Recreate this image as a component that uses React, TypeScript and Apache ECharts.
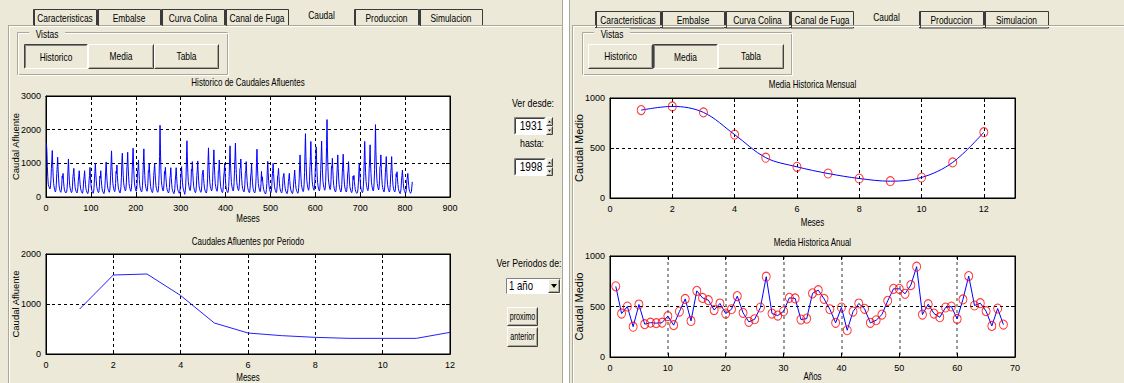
import { useEffect, useRef } from 'react';
import * as echarts from 'echarts';

// ---------- DATA ----------
const historicFlow: number[] = [
  1600, 1350, 900, 600, 380, 320, 300, 260, 240, 330, 520, 850,
  1100, 1380, 950, 620, 400, 300, 230, 180, 150, 200, 380, 700,
  900, 1180, 820, 560, 350, 260, 200, 160, 140, 190, 330, 620,
  560, 700, 480, 320, 220, 170, 140, 120, 110, 150, 260, 450,
  820, 1130, 760, 500, 330, 250, 190, 150, 130, 170, 320, 600,
  700, 850, 600, 420, 280, 210, 170, 140, 120, 160, 280, 500,
  620, 780, 560, 380, 260, 200, 160, 130, 110, 150, 270, 520,
  600, 780, 540, 370, 250, 190, 150, 120, 100, 140, 260, 500,
  640, 880, 600, 400, 270, 200, 160, 130, 110, 150, 280, 540,
  760, 1000, 700, 480, 310, 240, 190, 150, 130, 170, 320, 620,
  560, 780, 520, 350, 240, 180, 150, 120, 100, 140, 260, 500,
  780, 1040, 720, 500, 330, 250, 200, 160, 140, 180, 340, 650,
  1000, 1370, 900, 620, 400, 300, 240, 190, 160, 210, 400, 760,
  700, 950, 640, 430, 290, 220, 180, 140, 120, 170, 300, 580,
  1050, 1300, 960, 650, 420, 320, 260, 210, 180, 230, 420, 800,
  1000, 1330, 900, 620, 400, 310, 250, 200, 170, 220, 400, 780,
  1100, 1450, 980, 660, 420, 320, 260, 200, 170, 220, 420, 800,
  820, 1100, 760, 520, 340, 260, 210, 170, 150, 190, 350, 680,
  1050, 1430, 950, 640, 410, 310, 250, 200, 170, 220, 410, 780,
  760, 1000, 700, 480, 320, 240, 190, 150, 130, 170, 330, 640,
  800, 1000, 720, 500, 330, 250, 200, 160, 140, 180, 340, 660,
  1200, 2130, 1400, 800, 480, 350, 270, 210, 180, 230, 420, 760,
  680, 880, 620, 420, 280, 210, 170, 140, 120, 160, 290, 560,
  640, 870, 580, 380, 250, 190, 150, 120, 100, 140, 260, 500,
  660, 870, 600, 400, 260, 200, 160, 130, 110, 150, 270, 520,
  700, 900, 640, 440, 300, 230, 180, 140, 80, 150, 300, 600,
  1200, 1670, 1100, 720, 460, 350, 280, 220, 190, 240, 440, 820,
  780, 1050, 720, 490, 320, 240, 190, 150, 130, 170, 330, 640,
  800, 1070, 740, 500, 330, 250, 200, 160, 140, 180, 340, 650,
  640, 800, 580, 400, 270, 210, 170, 140, 120, 160, 290, 560,
  1080, 1460, 980, 660, 420, 320, 260, 210, 180, 230, 430, 800,
  1040, 1400, 940, 640, 410, 310, 250, 200, 170, 220, 410, 780,
  800, 1100, 740, 490, 320, 240, 190, 150, 130, 170, 320, 620,
  740, 1000, 680, 460, 300, 230, 180, 150, 130, 170, 310, 600,
  1100, 1520, 1000, 680, 430, 330, 260, 210, 180, 230, 430, 820,
  1150, 1600, 1050, 700, 450, 340, 270, 220, 190, 240, 440, 840,
  860, 1130, 780, 530, 350, 260, 210, 170, 150, 190, 360, 700,
  780, 1050, 720, 490, 320, 240, 190, 150, 130, 170, 330, 640,
  720, 1000, 660, 440, 290, 220, 170, 140, 120, 160, 300, 580,
  1020, 1420, 920, 620, 400, 300, 240, 190, 160, 210, 400, 760,
  480, 600, 420, 300, 220, 170, 140, 110, 90, 120, 220, 400,
  780, 1060, 720, 480, 310, 230, 180, 150, 130, 170, 320, 620,
  780, 1000, 700, 480, 320, 240, 190, 150, 130, 170, 330, 640,
  660, 850, 600, 410, 280, 210, 170, 140, 120, 160, 290, 560,
  560, 700, 500, 350, 240, 180, 150, 120, 100, 140, 250, 460,
  560, 700, 490, 340, 240, 180, 150, 120, 100, 140, 250, 470,
  620, 800, 560, 380, 260, 200, 160, 130, 110, 150, 280, 540,
  940, 1250, 860, 580, 380, 290, 230, 180, 160, 200, 380, 720,
  1300, 1880, 1200, 800, 500, 380, 300, 240, 200, 260, 480, 900,
  1200, 1650, 1100, 740, 470, 360, 290, 230, 200, 250, 460, 860,
  1100, 1490, 1000, 680, 440, 330, 270, 210, 180, 230, 440, 820,
  1200, 1660, 1100, 740, 470, 360, 290, 230, 200, 250, 460, 880,
  1500, 2300, 1450, 900, 560, 420, 330, 260, 220, 280, 500, 920,
  860, 1150, 780, 520, 340, 260, 210, 170, 150, 190, 360, 680,
  920, 1250, 840, 560, 360, 280, 220, 180, 150, 200, 380, 720,
  920, 1270, 840, 560, 360, 270, 220, 170, 150, 190, 370, 700,
  780, 1050, 720, 480, 310, 240, 190, 150, 130, 170, 320, 620,
  520, 640, 460, 320, 220, 170, 140, 110, 100, 130, 240, 440,
  760, 1000, 690, 470, 310, 230, 190, 150, 130, 170, 320, 620,
  1150, 1650, 1080, 720, 460, 350, 280, 220, 190, 240, 450, 850,
  1100, 1550, 1020, 690, 440, 340, 270, 210, 180, 230, 440, 820,
  1400, 2150, 1350, 860, 540, 400, 320, 250, 210, 270, 490, 900,
  920, 1250, 850, 570, 370, 280, 220, 180, 150, 200, 380, 720,
  900, 1200, 820, 550, 360, 270, 220, 170, 150, 190, 370, 700,
  880, 1200, 800, 540, 350, 260, 210, 170, 150, 190, 360, 690,
  600, 750, 540, 370, 250, 190, 150, 120, 100, 140, 260, 500,
  640, 800, 570, 390, 260, 200, 160, 130, 110, 150, 270, 520,
  560, 700, 500, 340, 230, 170, 140, 110, 100, 160, 300, 450,
];
const periodMonths = [1, 2, 3, 4, 5, 6, 7, 8, 9, 10, 11, 12];
const periodFlow = [900, 1580, 1600, 1170, 620, 420, 367, 333, 313, 313, 313, 433];
const meanMonths = [1, 2, 3, 4, 5, 6, 7, 8, 9, 10, 11, 12];
const monthlyMean = [879, 916, 856, 634, 403, 312, 245, 195, 168, 205, 356, 658];
const annualMean = [
  700, 430, 500, 300, 520, 325, 340, 335, 340, 405,
  315, 450, 575, 357, 655, 585, 563, 465, 530, 430,
  473, 603, 437, 348, 374, 490, 795, 430, 410, 453,
  586, 580, 371, 380, 630, 662, 576, 473, 338, 490,
  265, 450, 530, 477, 338, 364, 420, 556, 675, 675,
  626, 712, 894, 420, 523, 430, 394, 490, 500, 377,
  570, 801, 510, 533, 454, 308, 480, 321,
];
const tabLabels = ['Caracteristicas', 'Embalse', 'Curva Colina', 'Canal de Fuga', 'Caudal', 'Produccion', 'Simulacion'];
const viewLabels = ['Historico', 'Media', 'Tabla'];
const chartTitles = ['Historico de Caudales Afluentes', 'Caudales Afluentes por Periodo', 'Media Historica Mensual', 'Media Historica Anual'];
const xNames = ['Meses', 'Meses', 'Meses', 'Años'];
const yNames = ['Caudal Afluente', 'Caudal Afluente', 'Caudal Medio', 'Caudal Medio'];

// ---------- STYLE ----------
const BG = '#ECE9D8';
const WF = '"Liberation Sans",Arial,sans-serif';
const DARK = '#404040';

function T(x: number, y: number, text: string, size = 10, align = 'center', rot = 0, sx = 0.8): any {
  return {
    type: 'text', x, y, rotation: rot, scaleX: sx, z: 30,
    style: { text, fill: '#000', font: `${size}px ${WF}`, align, verticalAlign: 'middle', textAlign: align, textVerticalAlign: 'middle' },
  };
}
function R(x: number, y: number, w: number, h: number, fill: string, stroke?: string): any {
  return { type: 'rect', z: 10, shape: { x, y, width: w, height: h }, style: { fill, stroke: stroke || null, lineWidth: 1 } };
}
function L(x1: number, y1: number, x2: number, y2: number, color: string, z = 12): any {
  return { type: 'line', z, shape: { x1, y1, x2, y2 }, style: { stroke: color, lineWidth: 1 } };
}
function button(x: number, y: number, w: number, h: number, label: string, pressed: boolean, size = 10, sx = 0.8): any[] {
  const a = x + 0.5, b = y + 0.5, c = x + w - 0.5, d = y + h - 0.5;
  const els: any[] = [R(x, y, w, h, BG)];
  if (pressed) {
    els.push(L(a, b, c, b, DARK), L(a, b, a, d, DARK), L(a + 1, b + 1, c - 1, b + 1, '#808080'), L(a + 1, b + 1, a + 1, d - 1, '#808080'),
      L(a, d, c, d, '#fff'), L(c, b, c, d, '#fff'));
  } else {
    els.push(L(a, b, c, b, '#fff'), L(a, b, a, d, '#fff'), L(a, d, c, d, DARK), L(c, b, c, d, DARK),
      L(a + 1, d - 1, c - 1, d - 1, '#aca899'), L(c - 1, b + 1, c - 1, d - 1, '#aca899'));
  }
  if (label) els.push(T(x + w / 2, y + h / 2 + (pressed ? 1 : 0), label, size, 'center', 0, sx));
  return els;
}
function editBox(x: number, y: number, w: number, h: number, text: string): any[] {
  const a = x + 0.5, b = y + 0.5, c = x + w - 0.5, d = y + h - 0.5;
  return [R(x, y, w, h, '#fff'), L(a, b, c, b, '#808080'), L(a, b, a, d, '#808080'), L(a + 1, b + 1, c - 1, b + 1, DARK),
    L(a + 1, b + 1, a + 1, d - 1, DARK), L(a, d, c, d, '#fff'), T(x + w / 2 + 1, y + h / 2, text, 12, 'center', 0, 0.85)];
}
function spinner(x: number, y: number, h: number): any[] {
  const hh = h / 2;
  const els: any[] = [...button(x, y, 7, hh, '', false), ...button(x, y + hh, 7, hh, '', false)];
  els.push({ type: 'polygon', z: 31, shape: { points: [[x + 2, y + hh / 2 + 1], [x + 5, y + hh / 2 + 1], [x + 3.5, y + hh / 2 - 1]] }, style: { fill: '#000' } });
  els.push({ type: 'polygon', z: 31, shape: { points: [[x + 2, y + hh + hh / 2 - 1], [x + 5, y + hh + hh / 2 - 1], [x + 3.5, y + hh + hh / 2 + 1]] }, style: { fill: '#000' } });
  return els;
}

function panelChrome(ox: number, tabX: number[], tabTop: number, pressedIdx: number, vist: { gx: number; gw: number; bx: number[] }): any[] {
  const els: any[] = [];
  els.push(L(ox + 8.5, 26, ox + 8.5, 383, '#aca899'), L(ox + 9.5, 26, ox + 9.5, 383, '#fff'));
  els.push(L(ox + 8, 25.5, ox + 562, 25.5, '#aca899'), L(ox + 9, 26.5, ox + 562, 26.5, '#fff'));
  for (let i = 0; i < tabLabels.length; i++) {
    const x0 = tabX[i], x1 = tabX[i + 1];
    if (tabLabels[i] === 'Caudal') {
      els.push(R(x0, tabTop - 3, x1 - x0, 20, BG));
      els.push(T((x0 + x1) / 2, tabTop + 6, tabLabels[i], 10.5));
    } else {
      els.push(R(x0 + 0.5, tabTop + 0.5, x1 - x0 - 1, 16.5, BG, '#3a3a3a'));
      els.push(L(x0 + 1.5, tabTop + 1, x0 + 1.5, tabTop + 17, '#3a3a3a'));
      els.push(T((x0 + x1) / 2, tabTop + 9, tabLabels[i], 10.5));
    }
  }
  els.push(R(vist.gx + 0.5, 32.5, vist.gw, 42, 'rgba(0,0,0,0)', '#aca899'));
  els.push(R(vist.gx + 1.5, 33.5, vist.gw, 42, 'rgba(0,0,0,0)', '#fff'));
  els.push(R(vist.gx + 12, 28, 36, 10, BG));
  els.push(T(vist.gx + 30, 34, 'Vistas', 10.5));
  for (let i = 0; i < viewLabels.length; i++) {
    els.push(...button(vist.bx[i], 44, vist.bx[i + 1] - vist.bx[i], 25, viewLabels[i], i === pressedIdx, 10.5));
  }
  return els;
}

const gui: any[] = [
  ...panelChrome(0, [33, 97, 161, 225, 289, 354, 419, 483], 9, 0, { gx: 17, gw: 210, bx: [24, 88, 154, 219] }),
  ...panelChrome(564, [595, 661, 725, 790, 854, 919, 984, 1049], 11, 1, { gx: 582, gw: 209, bx: [588, 653, 718, 784] }),
  R(563, 0, 6, 383, '#fff'),
  L(562.5, 0, 562.5, 383, '#aca899'),
  L(569.5, 0, 569.5, 383, '#aca899'),
  T(533, 103, 'Ver desde:', 11),
  ...editBox(514, 117, 32, 18, '1931'),
  ...spinner(546, 117, 18),
  T(532, 143, 'hasta:', 11),
  ...editBox(514, 158, 32, 18, '1998'),
  ...spinner(546, 158, 18),
  T(529, 263, 'Ver Periodos de:', 11),
  R(506, 278, 55, 16, '#fff'),
  L(506.5, 278.5, 560.5, 278.5, '#808080'), L(506.5, 278.5, 506.5, 293.5, '#808080'),
  T(509, 286, '1 año', 12, 'left', 0, 0.8),
  ...button(548, 279, 12, 14, '', false),
  { type: 'polygon', z: 31, shape: { points: [[551, 284], [557, 284], [554, 288]] }, style: { fill: '#000' } },
  ...button(507, 307, 31, 19, 'proximo', false, 10, 0.72),
  ...button(507, 327, 31, 20, 'anterior', false, 10, 0.72),
];

const boxes = [
  [46, 96, 404, 101],
  [46, 254, 404, 100],
  [610, 98, 405, 100],
  [610, 256, 405, 101],
];
const titleY = [83, 242, 85, 243];
const xNameY = [219, 378, 223, 377];
const yNameX = [15, 15, 579, 579];

boxes.forEach((b, i) => {
  gui.push(T(b[0] + b[2] / 2, titleY[i], chartTitles[i], 10));
  gui.push(T(b[0] + b[2] / 2, xNameY[i], xNames[i], 10));
  gui.push(T(yNameX[i], b[1] + b[3] / 2, yNames[i], i < 2 ? 9.5 : 11, 'center', Math.PI / 2, 1));
});

const xr = [[0, 900, 100], [0, 12, 2], [0, 13, 2], [0, 70, 10]];
const yr = [[0, 3000, 1000], [0, 2000, 1000], [0, 1000, 500], [0, 1000, 500]];
const plain = (v: number) => String(v);

function mkAxes() {
  const xAxis: any[] = [];
  const yAxis: any[] = [];
  const tick = { show: true, inside: true, length: 4, lineStyle: { color: '#000' } };
  const line = { show: true, onZero: false, lineStyle: { color: '#000' } };
  boxes.forEach((_, i) => {
    xAxis.push({
      type: 'value', gridIndex: i, min: xr[i][0], max: xr[i][1], interval: xr[i][2], position: 'bottom',
      axisLine: line, axisTick: tick,
      axisLabel: { show: true, margin: 6, color: '#000', fontSize: 9, fontFamily: WF, showMaxLabel: i !== 2, formatter: plain },
      splitLine: { show: true, lineStyle: { color: i === 3 ? '#7a7a7a' : '#000', type: [3, 3], width: i === 3 ? 1.5 : 1 } },
    });
    xAxis.push({
      type: 'value', gridIndex: i, min: xr[i][0], max: xr[i][1], interval: xr[i][2], position: 'top',
      axisLine: line, axisTick: tick, axisLabel: { show: false }, splitLine: { show: false },
    });
    yAxis.push({
      type: 'value', gridIndex: i, min: yr[i][0], max: yr[i][1], interval: yr[i][2], position: 'left',
      axisLine: line, axisTick: tick,
      axisLabel: { show: true, margin: 5, color: '#000', fontSize: 9, fontFamily: WF, formatter: plain },
      splitLine: { show: true, lineStyle: { color: '#000', type: [3, 3], width: 1 } },
    });
    yAxis.push({
      type: 'value', gridIndex: i, min: yr[i][0], max: yr[i][1], interval: yr[i][2], position: 'right',
      axisLine: line, axisTick: tick, axisLabel: { show: false }, splitLine: { show: false },
    });
  });
  return { xAxis, yAxis };
}

export default function App() {
  const ref = useRef<HTMLDivElement>(null);
  useEffect(() => {
    if (!ref.current) return;
    const chart = echarts.init(ref.current, null, { renderer: 'svg' });
    const { xAxis, yAxis } = mkAxes();
    chart.setOption({
      animation: false,
      backgroundColor: BG,
      grid: boxes.map((b) => ({
        left: b[0], top: b[1], width: b[2], height: b[3], show: true, backgroundColor: '#fff', borderColor: '#000', borderWidth: 1, containLabel: false,
      })),
      xAxis,
      yAxis,
      graphic: { elements: gui },
      series: [
        {
          type: 'line', xAxisIndex: 0, yAxisIndex: 0, showSymbol: false, symbol: 'none',
          data: historicFlow.map((v, k) => [k + 1, v]),
          lineStyle: { color: '#0000ff', width: 1 }, z: 5,
        },
        {
          type: 'line', xAxisIndex: 2, yAxisIndex: 2, showSymbol: false, symbol: 'none',
          data: periodMonths.map((m, k) => [m, periodFlow[k]]),
          lineStyle: { color: '#2020ff', width: 1 }, z: 5,
        },
        {
          type: 'line', xAxisIndex: 4, yAxisIndex: 4, showSymbol: false, symbol: 'none', smooth: 0.35,
          data: meanMonths.map((m, k) => [m, monthlyMean[k]]),
          lineStyle: { color: '#0000ff', width: 1 }, z: 5,
        },
        {
          type: 'scatter', xAxisIndex: 4, yAxisIndex: 4, symbol: 'circle', symbolSize: [8, 9],
          data: meanMonths.map((m, k) => [m, monthlyMean[k]]),
          itemStyle: { color: 'rgba(0,0,0,0)', borderColor: '#ff0000', borderWidth: 1 }, z: 6,
        },
        {
          type: 'line', xAxisIndex: 6, yAxisIndex: 6, showSymbol: false, symbol: 'none',
          data: annualMean.map((v, k) => [k + 1, v]),
          lineStyle: { color: '#0000ff', width: 1 }, z: 5,
        },
        {
          type: 'scatter', xAxisIndex: 6, yAxisIndex: 6, symbol: 'circle', symbolSize: [8, 9],
          data: annualMean.map((v, k) => [k + 1, v]),
          itemStyle: { color: 'rgba(0,0,0,0)', borderColor: '#ff0000', borderWidth: 1 }, z: 6,
        },
      ],
    });
    return () => chart.dispose();
  }, []);
  return <div ref={ref} style={{ position: 'absolute', left: 0, top: 0, width: 1124, height: 383 }} />;
}
